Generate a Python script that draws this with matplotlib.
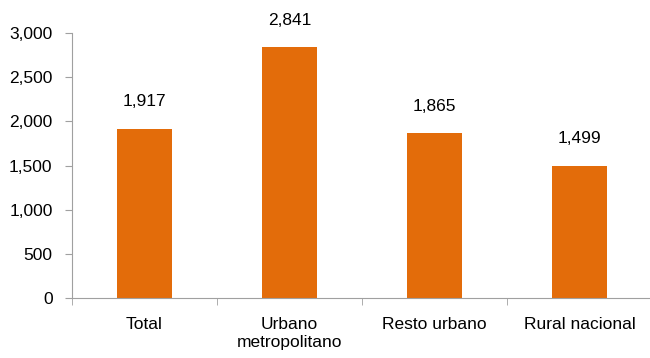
import numpy as np
import matplotlib.pyplot as plt

categories = ['Total', 'Urbano\nmetropolitano', 'Resto urbano', 'Rural nacional']
values = [1917, 2841, 1865, 1499]
yticks = [0, 500, 1000, 1500, 2000, 2500, 3000]

plt.rcParams['font.family'] = ['Liberation Sans', 'DejaVu Sans']

fig = plt.figure(figsize=(6.5, 3.58), dpi=100)
ax = fig.add_axes([72/650, 60/358, 580/650, 265/358])

x = np.arange(len(categories))
ax.bar(x, values, width=0.38, color='#E36C0A')
for xi, v in zip(x, values):
    ax.annotate('{:,}'.format(v), xy=(xi, v), xytext=(0, 14), textcoords='offset points',
                ha='center', va='bottom', fontsize=12.5)

ax.set_xlim(-0.5, len(categories) - 0.5)
ax.set_ylim(0, 3000)
ax.set_yticks(yticks)
ax.set_yticklabels(['{:,}'.format(t) for t in yticks], fontsize=12.5)
ax.set_xticks(x)
ax.set_xticklabels(categories, fontsize=12.5)
ax.tick_params(axis='x', length=0, pad=14)
ax.set_xticks(np.arange(len(categories) + 1) - 0.5, minor=True)
ax.tick_params(axis='x', which='minor', length=5, color='#A0A0A0')
ax.tick_params(axis='y', length=5, color='#A0A0A0', pad=9)

for s in ['top', 'right']:
    ax.spines[s].set_visible(False)
for s in ['left', 'bottom']:
    ax.spines[s].set_color('#A0A0A0')

fig.savefig('out.png', dpi=100)
